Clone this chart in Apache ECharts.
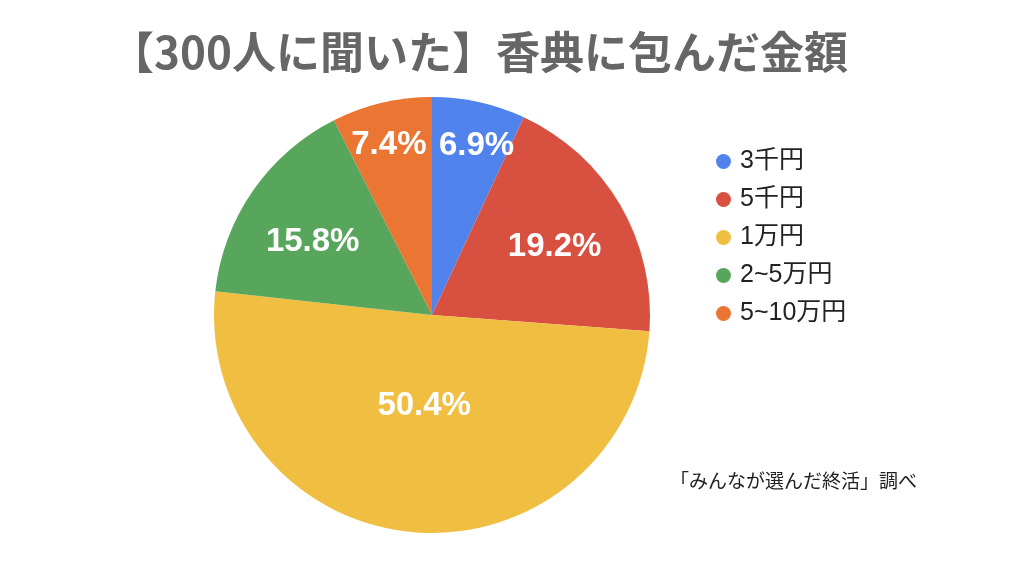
<!DOCTYPE html>
<html><head><meta charset="utf-8">
<script src="https://cdn.jsdelivr.net/npm/echarts@6/dist/echarts.min.js"></script>
<style>html,body{margin:0;padding:0;background:#fff}#c{width:1024px;height:570px}</style>
</head><body><div id="c"></div>
<script>
const categories = ['3千円', '5千円', '1万円', '2~5万円', '5~10万円'];
const values = [6.9, 19.2, 50.4, 15.8, 7.4];
const colors = ['#5084EC', '#D8503F', '#F0BE41', '#58A65B', '#EB7532'];
const titleText = '【300人に聞いた】香典に包んだ金額';
const sourceText = '「みんなが選んだ終活」調べ';

// label placement style: distance from centre (fraction of radius) and angular nudge (degrees)
const labelRadiusFrac = [0.803, 0.643, 0.417, 0.643, 0.803];
const labelAngleNudge = [2.3, 1.4, -0.3, -3.1, -0.9];
const CX = 432, CY = 315, R = 218;

const total = values.reduce((a, b) => a + b, 0);
function midAngle(i) {
  let acc = 0;
  for (let k = 0; k < i; k++) acc += values[k];
  return ((acc + values[i] / 2) / total) * Math.PI * 2;
}

const chart = echarts.init(document.getElementById('c'));
chart.setOption({
  animation: false,
  backgroundColor: '#fff',
  color: colors,
  title: [{
    text: titleText,
    left: 474, top: 25, textAlign: 'center',
    textStyle: { fontFamily: '"Noto Sans CJK JP", sans-serif', fontWeight: 'bold', fontSize: 44, color: '#666' }
  }, {
    text: sourceText,
    left: 665, top: 468,
    textStyle: { fontFamily: '"Liberation Sans", "Noto Sans CJK JP", sans-serif', fontWeight: 'normal', fontSize: 19, color: '#222' }
  }],
  legend: {
    orient: 'vertical',
    left: 711, top: 144,
    icon: 'circle',
    itemWidth: 15, itemHeight: 15,
    itemGap: 13,
    textStyle: { fontFamily: '"Liberation Sans", "Noto Sans CJK JP", sans-serif', fontSize: 25, color: '#222', padding: [0,0,0,4] },
    data: categories
  },
  series: [{
    type: 'pie',
    center: [CX, CY],
    radius: R,
    startAngle: 90,
    clockwise: true,
    itemStyle: { borderWidth: 0 },
    label: {
      position: 'inside',
      formatter: p => p.value.toFixed(1) + '%',
      color: '#fff',
      fontFamily: '"Liberation Sans", Arial, sans-serif',
      fontWeight: 'bold',
      fontSize: 33
    },
    labelLine: { show: false },
    labelLayout: function (p) {
      const i = p.dataIndex;
      const a = midAngle(i) + labelAngleNudge[i] * Math.PI / 180;
      const f = labelRadiusFrac[i];
      return {
        x: CX + Math.sin(a) * R * f,
        y: CY - Math.cos(a) * R * f,
        align: 'center',
        verticalAlign: 'middle'
      };
    },
    data: categories.map((c, i) => ({ name: c, value: values[i] }))
  }]
});
</script></body></html>
